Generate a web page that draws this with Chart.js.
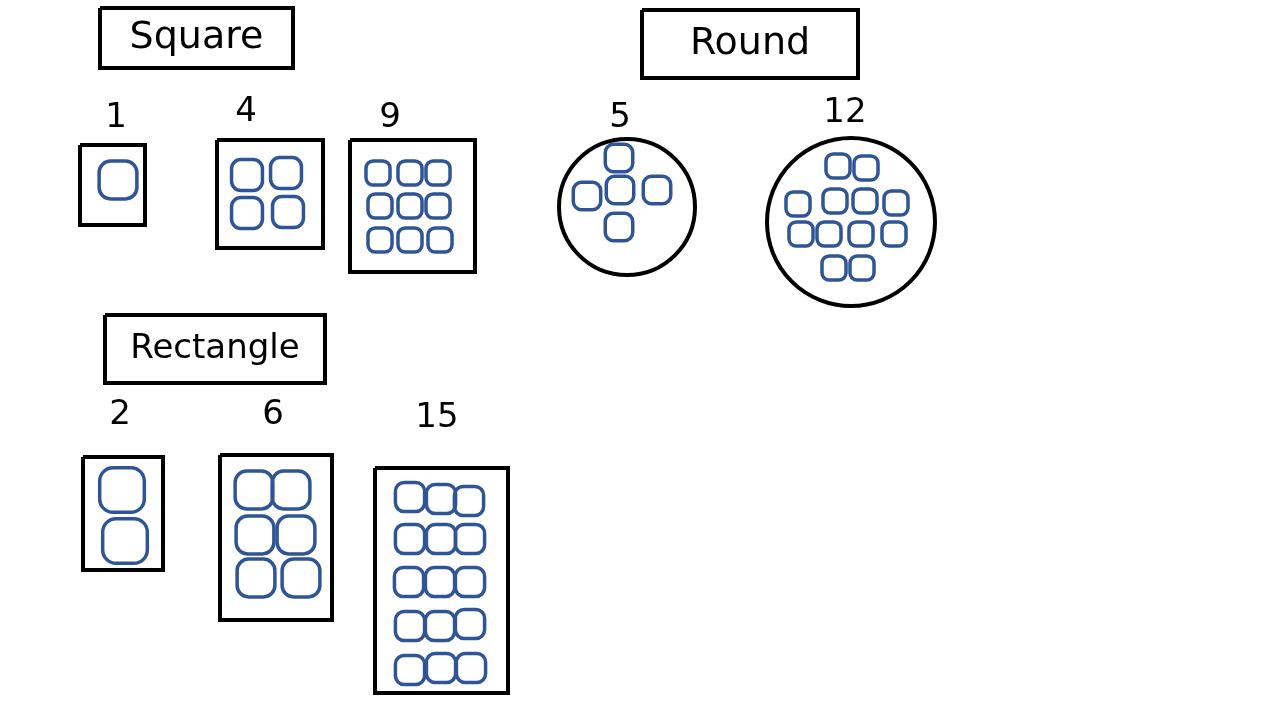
<!DOCTYPE html>
<html>
<head>
<meta charset="utf-8">
<script src="https://cdn.jsdelivr.net/npm/chart.js@4"></script>
<style>
  html, body { margin: 0; padding: 0; background: #fff; }
  #wrap { width: 1280px; height: 720px; }
</style>
</head>
<body>
<div id="wrap"><canvas id="sketch"></canvas></div>
<script>
// groups, in sketch coordinates (x to the right, y downward)
const titles = [
  { text: "Square", box: [100, 8, 293, 68] },
  { text: "Round", box: [642, 10, 858, 78] },
  { text: "Rectangle", box: [105, 315, 325, 383] }
];
const counts = [
  { text: "1", x: 116, y: 118 }, { text: "4", x: 246, y: 112 }, { text: "9", x: 390, y: 118 },
  { text: "5", x: 620, y: 118 }, { text: "12", x: 845, y: 113 },
  { text: "2", x: 120, y: 415 }, { text: "6", x: 273, y: 415 }, { text: "15", x: 437, y: 418 }
];
const frames = [
  [80, 145, 145, 225], [217, 140, 323, 248], [350, 140, 475, 272],
  [83, 457, 163, 570], [220, 455, 332, 620], [375, 468, 508, 693]
];
const rounds = [
  { x: 627, y: 207, r: 68 }, { x: 851, y: 222, r: 84 }
];
const cells = [
  { r: 22, pts: [[118, 180]] },
  { r: 18, pts: [[247, 175], [286, 173], [247, 213], [288, 212]] },
  { r: 14, pts: [[378, 173], [410, 173], [438, 173], [380, 206], [410, 206], [438, 206], [380, 240], [410, 240], [440, 240]] },
  { r: 16, pts: [[619, 158], [587, 196], [620, 190], [657, 190], [619, 227]] },
  { r: 14, pts: [[838, 166], [866, 168], [798, 204], [835, 201], [865, 201], [896, 203], [801, 234], [829, 234], [861, 234], [894, 234], [834, 268], [862, 268]] },
  { r: 26, pts: [[122, 490], [125, 541]] },
  { r: 22, pts: [[254, 490], [291, 490], [255, 535], [296, 535], [256, 578], [301, 578]] },
  { r: 17, pts: [[410, 497], [441, 499], [469, 501], [410, 539], [441, 539], [470, 539], [409, 582], [440, 582], [470, 582], [410, 626], [440, 626], [470, 624], [410, 670], [441, 668], [471, 668]] }
];

const INK = "#000";
const BLUE = "#2f5597";

function rectPts(b) {
  return [{ x: b[0], y: b[1] }, { x: b[2], y: b[1] }, { x: b[2], y: b[3] }, { x: b[0], y: b[3] }, { x: b[0], y: b[1] }];
}

const datasets = [];
for (const t of titles) {
  datasets.push({ type: "line", data: rectPts(t.box), borderColor: INK, borderWidth: 4, pointRadius: 0, tension: 0 });
}
for (const f of frames) {
  datasets.push({ type: "line", data: rectPts(f), borderColor: INK, borderWidth: 4, pointRadius: 0, tension: 0 });
}
for (const c of rounds) {
  datasets.push({ data: [{ x: c.x, y: c.y }], pointStyle: "circle", pointRadius: c.r, borderColor: INK, borderWidth: 4, backgroundColor: "transparent" });
}
for (const g of cells) {
  datasets.push({
    data: g.pts.map(p => ({ x: p[0], y: p[1] })),
    pointStyle: "rectRounded", pointRadius: g.r, borderColor: BLUE, borderWidth: 3.5, backgroundColor: "transparent"
  });
}

const labelsPlugin = {
  id: "labels",
  afterDatasetsDraw(chart) {
    const { ctx, scales: { x, y } } = chart;
    ctx.save();
    ctx.fillStyle = INK;
    ctx.textAlign = "center";
    ctx.textBaseline = "middle";
    for (const t of titles) {
      ctx.font = (t.text === "Rectangle" ? "34px" : "38px") + " 'DejaVu Sans'";
      ctx.fillText(t.text, x.getPixelForValue((t.box[0] + t.box[2]) / 2), y.getPixelForValue((t.box[1] + t.box[3]) / 2));
    }
    ctx.font = "34px 'DejaVu Sans'";
    for (const c of counts) {
      ctx.fillText(c.text, x.getPixelForValue(c.x), y.getPixelForValue(c.y));
    }
    ctx.restore();
  }
};

new Chart(document.getElementById("sketch"), {
  type: "scatter",
  data: { datasets },
  options: {
    responsive: true,
    maintainAspectRatio: false,
    animation: false,
    layout: { padding: 0, autoPadding: false },
    plugins: { legend: { display: false }, tooltip: { enabled: false } },
    scales: {
      x: { type: "linear", min: 0, max: 1280, display: false },
      y: { type: "linear", min: 0, max: 720, reverse: true, display: false }
    }
  },
  plugins: [labelsPlugin]
});
</script>
</body>
</html>
